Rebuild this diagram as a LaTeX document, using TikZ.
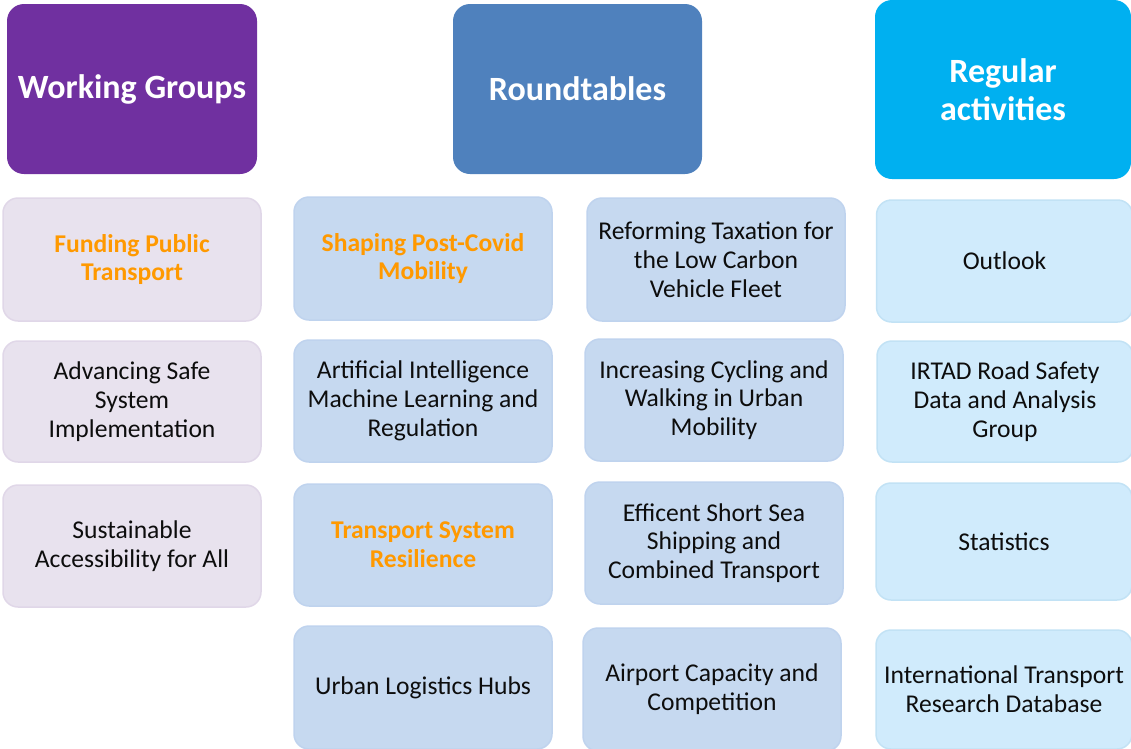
\documentclass[tikz,border=0pt]{standalone}
\usepackage{fontspec}
\setmainfont{Carlito}
\definecolor{wgdark}{HTML}{7030A0}
\definecolor{rtdark}{HTML}{4F81BD}
\definecolor{radark}{HTML}{00B0F0}
\definecolor{wglight}{HTML}{E8E2EE}
\definecolor{wgedge}{HTML}{E0D7E8}
\definecolor{rtlight}{HTML}{C6D9F0}
\definecolor{rtedge}{HTML}{BFD3EE}
\definecolor{ralight}{HTML}{D0EBFC}
\definecolor{raedge}{HTML}{C2E2F5}
\definecolor{hilite}{HTML}{FF9900}
\definecolor{bodytext}{HTML}{0D0D0D}
\begin{document}
\begin{tikzpicture}[x=1pt,y=-1pt,
  header/.style={rounded corners=17pt, inner sep=0pt, align=center,
    text=white, font=\fontsize{34}{38}\selectfont\bfseries},
  item/.style={rounded corners=15pt, inner sep=0pt, align=center,
    line width=1.5pt, text=bodytext, font=\fontsize{25.6}{28.8}\selectfont},
  wgbox/.style={item, fill=wglight, draw=wgedge},
  rtbox/.style={item, fill=rtlight, draw=rtedge},
  rabox/.style={item, fill=ralight, draw=raedge},
  hot/.style={text=hilite, font=\fontsize{25.6}{28.8}\selectfont\bfseries},
  box/.style args={#1,#2,#3,#4}{minimum width=#3, minimum height=#4, at={(#1,#2)}}
]
\useasboundingbox (0,0) rectangle (1131,748);

% column headers
\node[header, fill=wgdark, box={132,89,250pt,170pt}] (wg) {Working Groups};
\node[header, fill=rtdark, box={577.5,89,249pt,170pt}] (rt) {Roundtables};
\node[header, fill=radark, box={1003,89.5,256pt,179pt}] (ra) {Regular\\activities};

% working groups
\node[wgbox, hot, box={132,259.5,258pt,123pt}] (wg1) {Funding Public\\Transport};
\node[wgbox, box={132,401.5,258pt,121pt}] (wg2) {Advancing Safe\\System\\Implementation};
\node[wgbox, box={132,546,258pt,122pt}] (wg3) {Sustainable\\Accessibility for All};

% roundtables, first column
\node[rtbox, hot, box={423,258.5,258pt,123pt}] (rt1) {Shaping Post-Covid\\Mobility};
\node[rtbox, box={423,401,258pt,122pt}] (rt2) {Artificial Intelligence\\Machine Learning and\\Regulation};
\node[rtbox, hot, box={423,545,258pt,122pt}] (rt3) {Transport System\\Resilience};
\node[rtbox, box={423,687.5,258pt,123pt}] (rt4) {Urban Logistics Hubs};

% roundtables, second column
\node[rtbox, box={716,259.5,258pt,123pt}] (rt5) {Reforming Taxation for\\the Low Carbon\\Vehicle Fleet};
\node[rtbox, box={714,400,258pt,122pt}] (rt6) {Increasing Cycling and\\Walking in Urban\\Mobility};
\node[rtbox, box={714,543,258pt,122pt}] (rt7) {Efficent Short Sea\\Shipping and\\Combined Transport};
\node[rtbox, box={712,689.5,258pt,123pt}] (rt8) {Airport Capacity and\\Competition};

% regular activities
\node[rabox, box={1004.5,261,256pt,122pt}] (ra1) {Outlook};
\node[rabox, box={1005,401.5,256pt,121pt}] (ra2) {IRTAD Road Safety\\Data and Analysis\\Group};
\node[rabox, box={1004,541.5,256pt,117pt}] (ra3) {Statistics};
\node[rabox, box={1004,689.5,256pt,119pt}] (ra4) {International Transport\\Research Database};
\end{tikzpicture}
\end{document}
